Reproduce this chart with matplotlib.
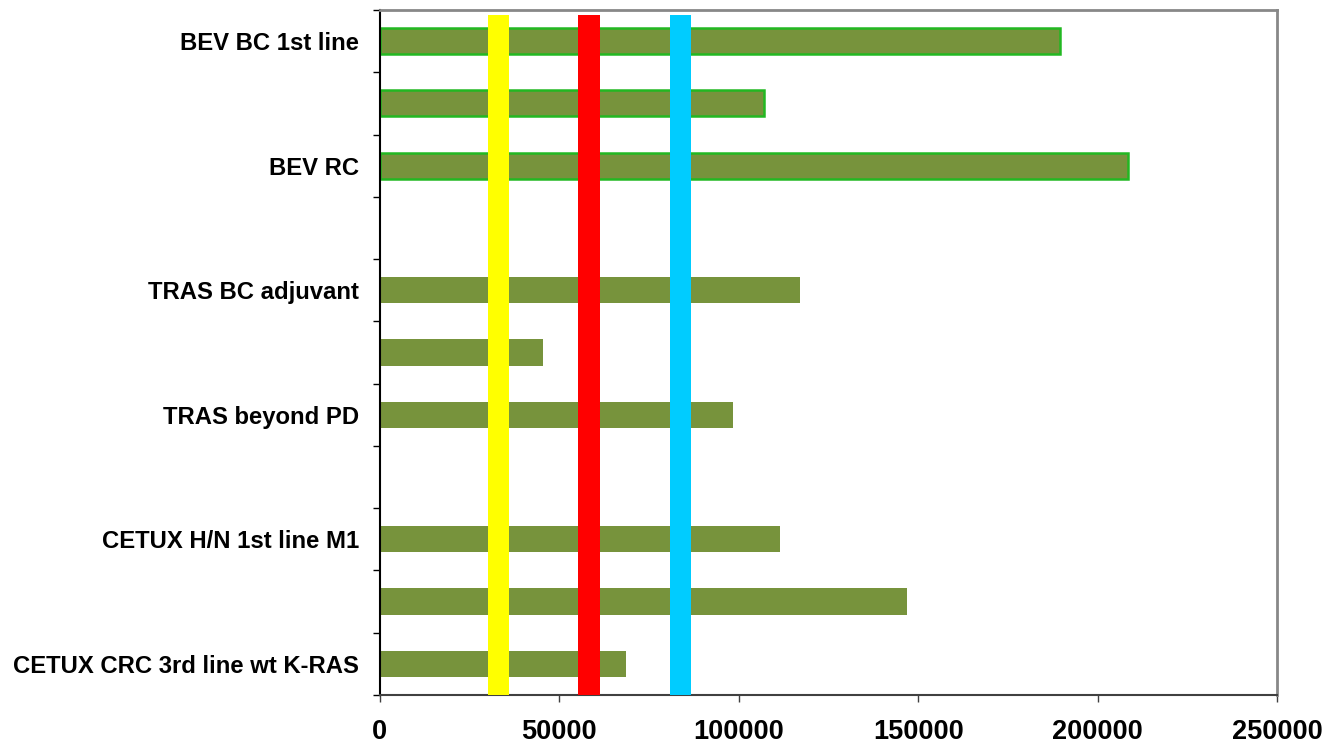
import numpy as np
import matplotlib.pyplot as plt

plt.rcParams['font.family'] = ['Liberation Sans', 'DejaVu Sans']
plt.rcParams['font.weight'] = 'bold'

# One slot per row, top to bottom; empty strings are unlabeled rows
labels = ["BEV BC 1st line", "", "BEV RC", "", "TRAS BC adjuvant", "",
          "TRAS beyond PD", "", "CETUX H/N 1st line M1", "",
          "CETUX CRC 3rd line wt K-RAS"]
values = [189400, 107000, 208500, np.nan, 117000, 45400,
          98400, np.nan, 111400, 146900, 68500]
outlined = [True, True, True, False, False, False,
            False, False, False, False, False]

# threshold bands (start, end)
band_start = [30150, 55300, 80740]
band_end = [36000, 61350, 86680]
band_colors = ["#FFFF00", "#FF0000", "#00CCFF"]

fig = plt.figure(figsize=(13.26, 7.44), dpi=100)
ax = fig.add_axes([0.2864, 0.0659, 0.6767, 0.9207])

y = np.arange(len(labels))
for yi, v, edge in zip(y, values, outlined):
    if np.isnan(v):
        continue
    ax.barh(yi, v, height=0.42, color="#77933C",
            edgecolor="#22B822" if edge else "none",
            linewidth=1.8 if edge else 0, zorder=2)

for x0, x1, c in zip(band_start, band_end, band_colors):
    ax.axvspan(x0, x1, ymin=0, ymax=0.993, color=c, lw=0, zorder=3)

ax.set_xlim(0, 250000)
ax.set_ylim(len(labels) - 0.5, -0.5)

ax.set_xticks(np.arange(0, 250001, 50000))
ax.tick_params(axis='x', length=5, width=1, pad=12, labelsize=19.5, color="#404040")

ax.set_yticks(y)
ax.set_yticklabels(labels, fontsize=17.2, fontweight='bold')
ax.set_yticks(np.arange(-0.5, len(labels), 1), minor=True)
ax.tick_params(axis='y', which='major', length=0, pad=15)
ax.tick_params(axis='y', which='minor', length=5, width=1, color="black")

ax.spines['left'].set_color("black")
ax.spines['left'].set_linewidth(1.5)
ax.spines['bottom'].set_color("#404040")
ax.spines['bottom'].set_linewidth(1.5)
for s in ['top', 'right']:
    ax.spines[s].set_color("#888888")
    ax.spines[s].set_linewidth(2)

fig.savefig("out.png", dpi=100)
